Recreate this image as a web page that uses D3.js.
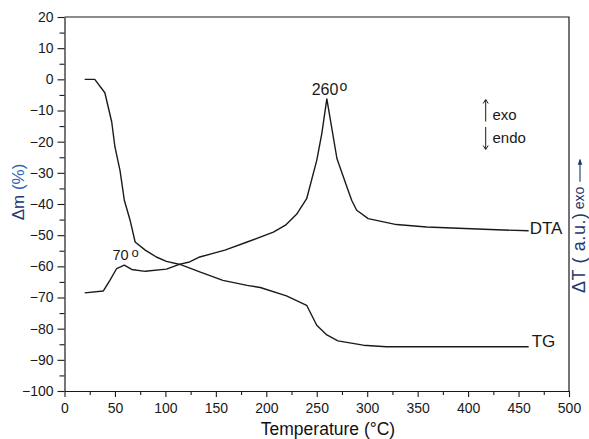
<!DOCTYPE html>
<html>
<head>
<meta charset="utf-8">
<script src="https://cdn.jsdelivr.net/npm/d3@7"></script>
<style>
  html, body { margin: 0; padding: 0; background: #fff; }
  svg { display: block; font-family: "Liberation Sans", Arial, sans-serif; }
</style>
</head>
<body>
<svg id="chart" width="589" height="439"></svg>
<script>
// ---- data ----
const tgTemp = [20, 30, 40, 46.8, 50, 55, 59.3, 65, 70, 80, 91, 101, 114.5, 134, 157, 181, 194, 220, 240, 250, 260, 271, 296, 319, 460];
const tgMass = [0, 0, -4.3, -13.7, -21.7, -29.2, -38.8, -45.2, -52.2, -54.8, -57, -58.4, -59.4, -61.8, -64.5, -66.1, -66.8, -69.5, -72.5, -78.9, -82, -83.9, -85.3, -85.8, -85.8];

const dtaTemp = [20, 38.5, 45, 51.7, 59.3, 66.6, 80, 101, 114.5, 124, 134, 159, 181, 207, 219, 230, 240, 250, 255, 260, 270, 280, 284.6, 289.6, 301, 329, 359, 422, 460];
const dtaSignal = [-68.5, -67.9, -64.5, -60.7, -59.6, -61, -61.6, -60.9, -59.3, -58.6, -57, -54.8, -52.2, -49, -46.8, -43.3, -38.3, -26, -17.4, -6.3, -25.4, -34.6, -38.8, -42, -44.7, -46.6, -47.4, -48.2, -48.6];

const xTicks = [0, 50, 100, 150, 200, 250, 300, 350, 400, 450, 500];
const xMinorTicks = [25, 75, 125, 175, 225, 275, 325, 375, 425, 475];
const yTicks = [20, 10, 0, -10, -20, -30, -40, -50, -60, -70, -80, -90, -100];
const yMinorTicks = [15, 5, -5, -15, -25, -35, -45, -55, -65, -75, -85, -95];

const peakLabels = ["70", "260"];

// ---- layout ----
const svg = d3.select("#chart");
const mLeft = 64.5, mRight = 569, mTop = 17, mBottom = 391;

const x = d3.scaleLinear().domain([0, 500]).range([mLeft, mRight]);
const y = d3.scaleLinear().domain([-100, 20]).range([mBottom, mTop]);

const ink = "#1a1a1a";

// frame (top and right)
svg.append("path")
  .attr("d", `M${mLeft},${mTop}H${mRight}V${mBottom}`)
  .attr("fill", "none").attr("stroke", ink).attr("stroke-width", 1.2);

// x axis
svg.append("g").attr("transform", `translate(0,${mBottom})`)
  .call(d3.axisBottom(x).tickValues(xTicks).tickSize(6).tickSizeOuter(0).tickPadding(6));
svg.append("g").attr("transform", `translate(0,${mBottom})`)
  .call(d3.axisBottom(x).tickValues(xMinorTicks).tickSize(4).tickSizeOuter(0).tickFormat(""))
  .select(".domain").remove();

// y axis
svg.append("g").attr("transform", `translate(${mLeft},0)`)
  .call(d3.axisLeft(y).tickValues(yTicks).tickSize(7).tickSizeOuter(0).tickPadding(4));
svg.append("g").attr("transform", `translate(${mLeft},0)`)
  .call(d3.axisLeft(y).tickValues(yMinorTicks).tickSize(5).tickSizeOuter(0).tickFormat(""))
  .select(".domain").remove();

svg.selectAll(".tick line").attr("stroke", ink).attr("stroke-width", 1.1);
svg.selectAll(".domain").attr("stroke", ink).attr("stroke-width", 1.2);
svg.selectAll(".tick text").attr("font-size", 14).attr("fill", ink)
  .attr("font-family", "Liberation Sans, Arial, sans-serif");

// axis titles
svg.append("text")
  .attr("x", 328).attr("y", 435)
  .attr("text-anchor", "middle")
  .attr("font-size", 17.5).attr("fill", "#111")
  .text("Temperature (°C)");

const yl = svg.append("text")
  .attr("transform", "translate(24,192) rotate(-90)")
  .attr("text-anchor", "middle")
  .attr("font-size", 17);
yl.append("tspan").attr("fill", "#1d3670").text("Δm ");
yl.append("tspan").attr("fill", "#2e63b5").text("(%)");

// right axis title
const rg = svg.append("g").attr("transform", "translate(585,293) rotate(-90)");
const rt = rg.append("text").attr("x", 0).attr("y", 0).attr("fill", "#1d3670");
rt.append("tspan").attr("font-size", 18).attr("letter-spacing", 0.6).text("ΔT ( a.u.)");
rt.append("tspan").attr("font-size", 14).attr("dx", 3).attr("dy", -1).text("exo");
const len = rt.node().getComputedTextLength();
rg.append("line")
  .attr("x1", len + 8).attr("x2", len + 30).attr("y1", -5).attr("y2", -5)
  .attr("stroke", "#1d3670").attr("stroke-width", 1.1);
rg.append("path")
  .attr("d", `M${len + 25},-7.3L${len + 31},-5L${len + 25},-2.7Z`)
  .attr("fill", "#1d3670");

// curves
const line = d3.line().x(d => x(d[0])).y(d => y(d[1]));
const tg = tgTemp.map((t, i) => [t, tgMass[i]]);
const dta = dtaTemp.map((t, i) => [t, dtaSignal[i]]);

svg.append("path").datum(tg).attr("d", line)
  .attr("fill", "none").attr("stroke", ink).attr("stroke-width", 1.4).attr("stroke-linejoin", "round");
svg.append("path").datum(dta).attr("d", line)
  .attr("fill", "none").attr("stroke", ink).attr("stroke-width", 1.4).attr("stroke-linejoin", "round");

// curve labels
svg.append("text").attr("x", x(460) + 1).attr("y", y(-48.6) + 3)
  .attr("font-size", 17).attr("fill", ink).text("DTA");
svg.append("text").attr("x", x(460) + 3).attr("y", y(-85.8) + 0.5)
  .attr("font-size", 17).attr("fill", ink).text("TG");

// peak labels
svg.append("text").attr("x", x(47.5)).attr("y", 260).attr("font-size", 14.5).attr("fill", ink).text(peakLabels[0]);
svg.append("text").attr("x", x(66.5)).attr("y", 256.7).attr("font-size", 13).attr("fill", ink).text("o");

svg.append("text").attr("x", x(245)).attr("y", 94.5).attr("font-size", 16).attr("fill", ink).text(peakLabels[1]);
svg.append("text").attr("x", x(272.5)).attr("y", 90.7).attr("font-size", 14).attr("fill", ink).text("o");

// exo / endo indicator
const ax = 485.7;
svg.append("line").attr("x1", ax).attr("x2", ax).attr("y1", 100).attr("y2", 121.5)
  .attr("stroke", ink).attr("stroke-width", 1);
svg.append("path").attr("d", `M${ax - 2.5},103.5L${ax},99.5L${ax + 2.5},103.5`)
  .attr("fill", "none").attr("stroke", ink).attr("stroke-width", 1);
svg.append("line").attr("x1", ax).attr("x2", ax).attr("y1", 127).attr("y2", 149)
  .attr("stroke", ink).attr("stroke-width", 1);
svg.append("path").attr("d", `M${ax - 2.5},145.5L${ax},149.5L${ax + 2.5},145.5`)
  .attr("fill", "none").attr("stroke", ink).attr("stroke-width", 1);
svg.append("text").attr("x", 492.5).attr("y", 119.5).attr("font-size", 15).attr("fill", ink).text("exo");
svg.append("text").attr("x", 492.5).attr("y", 142.5).attr("font-size", 15).attr("fill", ink).text("endo");
</script>
</body>
</html>
